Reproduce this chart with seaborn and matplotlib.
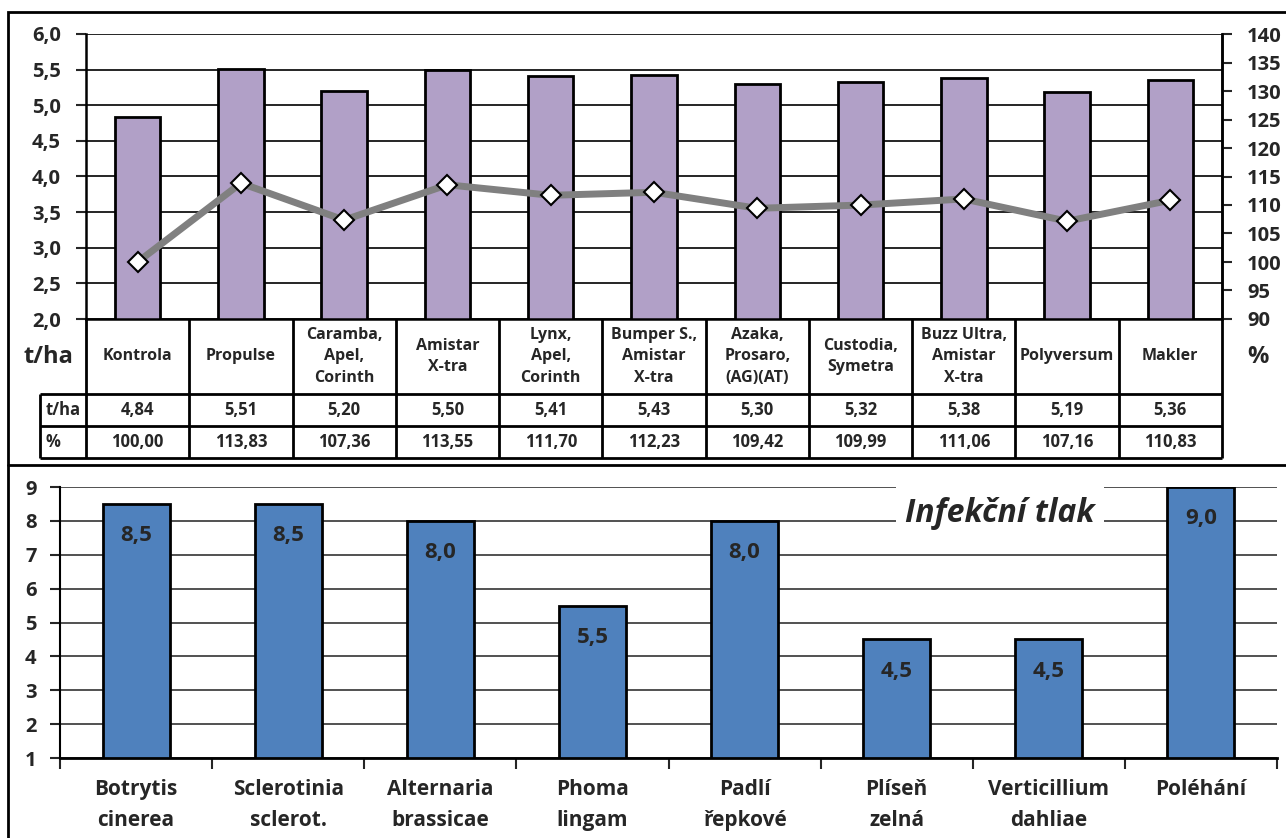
import numpy as np
import pandas as pd
import matplotlib
matplotlib.use("Agg")
import matplotlib.pyplot as plt
from matplotlib.ticker import FuncFormatter, FixedLocator
from matplotlib.patches import Rectangle
from matplotlib.lines import Line2D
import seaborn as sns

# data: top panel (yield)
variants = ["Kontrola", "Propulse", "Caramba,\nApel,\nCorinth", "Amistar\nX-tra",
            "Lynx,\nApel,\nCorinth", "Bumper S.,\nAmistar\nX-tra", "Azaka,\nProsaro,\n(AG)(AT)",
            "Custodia,\nSymetra", "Buzz Ultra,\nAmistar\nX-tra", "Polyversum", "Makler"]
yield_tha = [4.84, 5.51, 5.20, 5.50, 5.41, 5.43, 5.30, 5.32, 5.38, 5.19, 5.36]
yield_pct = [100.00, 113.83, 107.36, 113.55, 111.70, 112.23, 109.42, 109.99, 111.06, 107.16, 110.83]

# data: bottom panel (infection pressure)
diseases = ["Botrytis\ncinerea", "Sclerotinia\nsclerot.", "Alternaria\nbrassicae", "Phoma\nlingam",
            "Padlí\nřepkové", "Plíseň\nzelná", "Verticillium\ndahliae", "Poléhání"]
pressure = [8.5, 8.5, 8.0, 5.5, 8.0, 4.5, 4.5, 9.0]

sns.set_theme(style="white")
plt.rcParams["font.family"] = ["Open Sans", "DejaVu Sans"]
plt.rcParams["font.weight"] = "bold"

W, H = 1286, 838
fig = plt.figure(figsize=(W / 100, H / 100), dpi=100)


def rect(x0, y0, x1, y1):
    return [x0 / W, 1 - y1 / H, (x1 - x0) / W, (y1 - y0) / H]


def comma(fmt):
    return FuncFormatter(lambda v, _: format(v, fmt).replace(".", ","))


def bold_ticks(axis_obj):
    for lab in axis_obj.get_yticklabels() + axis_obj.get_xticklabels():
        lab.set_fontweight("bold")


# --- top chart ---
ax = fig.add_axes(rect(86, 34, 1222, 319))
df_top = pd.DataFrame({"variant": variants, "tha": yield_tha})
sns.barplot(data=df_top, x="variant", y="tha", color="#B1A0C7", saturation=1,
            edgecolor="black", linewidth=2, width=0.44, ax=ax)
ax.set_xlim(-0.5, len(variants) - 0.5)
ax.set_ylim(2, 6)
ax.yaxis.set_major_locator(FixedLocator(np.arange(2, 6.01, 0.5)))
ax.yaxis.set_major_formatter(comma(".1f"))
ax.yaxis.grid(True, color="black", lw=1.2)
ax.set_axisbelow(True)
ax.set_xticks([])
ax.set_xlabel("")
ax.set_ylabel("")
ax.tick_params(axis="y", left=True, length=7, width=1.5, labelsize=14.5, pad=11)
for s in ["left", "right", "bottom"]:
    ax.spines[s].set_color("black")
    ax.spines[s].set_linewidth(1.8)
ax.spines["top"].set_visible(False)
bold_ticks(ax)

ax2 = ax.twinx()
sns.lineplot(x=np.arange(len(variants)), y=yield_pct, ax=ax2, color="#808080", lw=5,
             marker="D", markersize=10, markerfacecolor="white", markeredgecolor="black",
             markeredgewidth=1.5)
ax2.set_ylim(90, 140)
ax2.yaxis.set_major_locator(FixedLocator(np.arange(90, 141, 5)))
ax2.tick_params(axis="y", right=True, length=7, width=1.5, labelsize=14.5, pad=11)
ax2.spines["right"].set_color("black")
ax2.spines["right"].set_linewidth(1.8)
for s in ["top", "left", "bottom"]:
    ax2.spines[s].set_visible(False)
ax2.grid(False)
bold_ticks(ax2)

# --- data table below top chart ---
tab = fig.add_axes(rect(40, 319, 1222, 458))
left_col = 46 / ((1222 - 86) / len(variants))
tab.set_xlim(-0.5 - left_col, len(variants) - 0.5)
tab.set_ylim(139, 0)
tab.axis("off")
for i in range(len(variants) + 1):
    tab.vlines(i - 0.5, 0, 139, color="black", lw=2, clip_on=False)
tab.vlines(-0.5 - left_col, 75, 139, color="black", lw=2, clip_on=False)
for yy in [75, 107, 139]:
    tab.hlines(yy, -0.5 - left_col, len(variants) - 0.5, color="black", lw=2, clip_on=False)
for i, name in enumerate(variants):
    tab.text(i, 37.5, name, ha="center", va="center", fontsize=11.5, fontweight="bold",
             linespacing=1.45)
    tab.text(i, 91, f"{yield_tha[i]:.2f}".replace(".", ","), ha="center", va="center",
             fontsize=12, fontweight="bold")
    tab.text(i, 123, f"{yield_pct[i]:.2f}".replace(".", ","), ha="center", va="center",
             fontsize=12, fontweight="bold")
tab.text(-0.45 - left_col, 91, "t/ha", ha="left", va="center", fontsize=12, fontweight="bold")
tab.text(-0.45 - left_col, 123, "%", ha="left", va="center", fontsize=12, fontweight="bold")

fig.text(48 / W, 1 - 357 / H, "t/ha", ha="center", va="center", fontsize=17, fontweight="bold")
fig.text(1258 / W, 1 - 357 / H, "%", ha="center", va="center", fontsize=17, fontweight="bold")

# --- bottom chart ---
bx = fig.add_axes(rect(60, 487, 1277, 758))
df_bot = pd.DataFrame({"disease": diseases, "pressure": pressure})
sns.barplot(data=df_bot, x="disease", y="pressure", color="#4F81BD", saturation=1,
            edgecolor="black", linewidth=2, width=0.44, ax=bx)
bx.set_xlim(-0.5, len(diseases) - 0.5)
bx.set_ylim(1, 9)
bx.yaxis.set_major_locator(FixedLocator(np.arange(1, 10)))
bx.yaxis.grid(True, color="#333333", lw=1.2)
bx.set_axisbelow(True)
bx.set_xlabel("")
bx.set_ylabel("")
bx.set_xticks(np.arange(-0.5, len(diseases)), minor=True)
bx.tick_params(axis="x", which="major", length=0, labelsize=15, pad=15)
bx.tick_params(axis="x", which="minor", bottom=True, length=8, width=1.5)
bx.tick_params(axis="y", left=True, length=7, width=1.5, labelsize=14.5, pad=10)
for s in ["top", "right"]:
    bx.spines[s].set_visible(False)
bx.spines["left"].set_color("black")
bx.spines["left"].set_linewidth(1.5)
bx.spines["bottom"].set_color("black")
bx.spines["bottom"].set_linewidth(2)
bold_ticks(bx)
for lab in bx.get_xticklabels():
    lab.set_linespacing(1.65)
    lab.set_verticalalignment("top")
for i, v in enumerate(pressure):
    bx.annotate(f"{v:.1f}".replace(".", ","), (i, v), xytext=(0, -23), textcoords="offset points",
                ha="center", va="center", fontsize=16, fontweight="bold")

bx.text(1000 / W, 1 - 513 / H, "Infekční tlak", transform=fig.transFigure, ha="center", va="center",
        fontsize=23, fontweight="bold", fontstyle="italic",
        bbox=dict(facecolor="white", edgecolor="none", pad=7))

# outer frame and divider
fig.add_artist(Rectangle((8 / W, -0.05), 1.1, 1 - 12 / H + 0.05, transform=fig.transFigure,
                         fill=False, edgecolor="black", lw=2))
fig.add_artist(Line2D([8 / W, 1], [1 - 465 / H, 1 - 465 / H], transform=fig.transFigure,
                      color="black", lw=2))

fig.savefig("out.png", dpi=100, facecolor="white")
